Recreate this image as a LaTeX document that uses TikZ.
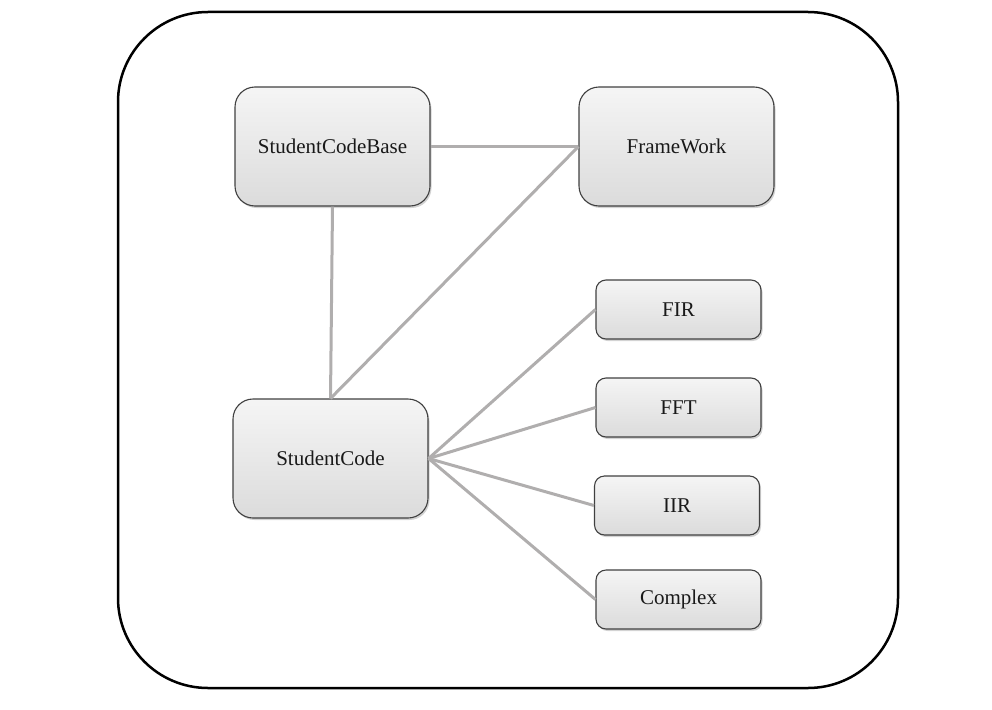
\documentclass[tikz,border=0pt]{standalone}
\usepackage{fontspec}
\setmainfont{Liberation Serif}
\usetikzlibrary{shadows}
\definecolor{edgegray}{HTML}{B0AEAE}
\definecolor{boxborder}{HTML}{404040}
\tikzset{
  boxbase/.style={draw=boxborder, line width=1.1pt, top color=gray!8, bottom color=gray!28,
    drop shadow={opacity=0.35, shadow xshift=1.5pt, shadow yshift=-2pt},
    font=\fontsize{21}{25}\selectfont, text=black!90, inner sep=0pt},
  bigbox/.style={boxbase, rounded corners=20pt, minimum width=195pt, minimum height=119pt},
  smallbox/.style={boxbase, rounded corners=10pt, minimum width=165pt, minimum height=59pt},
  link/.style={draw=edgegray, line width=3pt}
}
\begin{document}
\begin{tikzpicture}[x=1pt,y=-1pt]
\useasboundingbox (0,0) rectangle (992,709);
\draw[line width=2.5pt, rounded corners=90pt] (118,12) rectangle (898,688);
\node[bigbox] (scb) at (332.5,146.5) {StudentCodeBase};
\node[bigbox] (fw) at (676.5,146.5) {FrameWork};
\node[bigbox] (sc) at (330.5,458.5) {StudentCode};
\node[smallbox] (fir) at (678.5,309.5) {FIR};
\node[smallbox] (fft) at (678.5,407.5) {FFT};
\node[smallbox] (iir) at (677,505.5) {IIR};
\node[smallbox] (cx) at (678.5,599.5) {Complex};
\draw[link] (scb.east) -- (fw.west);
\draw[link] (scb.south) -- (sc.north);
\draw[link] (sc.north) -- (fw.west);
\draw[link] (sc.east) -- (fir.west);
\draw[link] (sc.east) -- (fft.west);
\draw[link] (sc.east) -- (iir.west);
\draw[link] (sc.east) -- (cx.west);
\end{tikzpicture}
\end{document}
